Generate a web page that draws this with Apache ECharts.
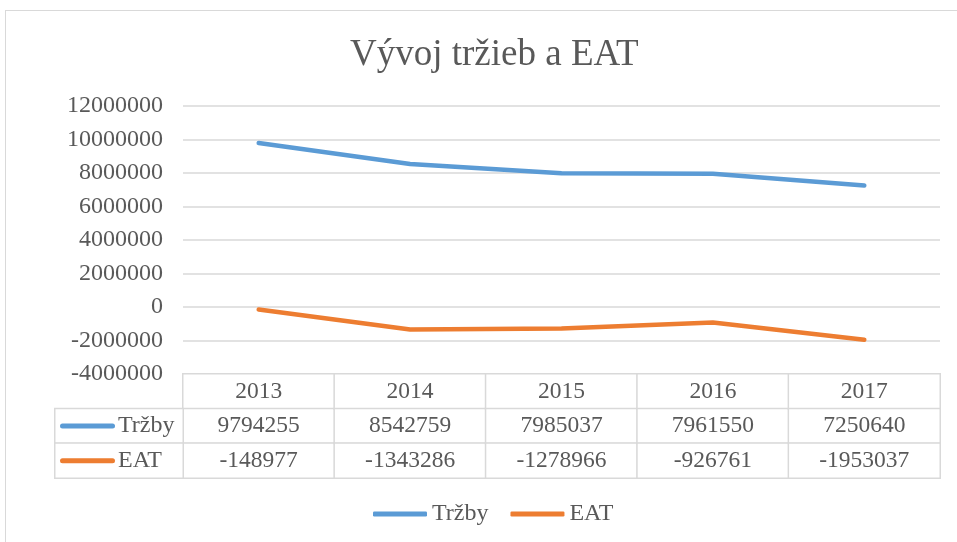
<!DOCTYPE html>
<html>
<head>
<meta charset="utf-8">
<script src="https://cdn.jsdelivr.net/npm/echarts@6/dist/echarts.min.js"></script>
<style>
  html, body { margin: 0; padding: 0; background: #fff; }
  #frame { position: absolute; left: 5px; top: 10px; width: 970px; height: 550px; border: 1px solid #d9d9d9; }
  #chart { position: absolute; left: 0; top: 0; width: 957px; height: 542px; }
</style>
</head>
<body>
<div id="frame"></div>
<div id="chart"></div>
<script>
const years = ['2013', '2014', '2015', '2016', '2017']
const trzby = [9794255, 8542759, 7985037, 7961550, 7250640]
const eat = [-148977, -1343286, -1278966, -926761, -1953037]
const seriesNames = ['Tržby', 'EAT']
const colors = ['#5B9BD5', '#ED7D31']

const font = "'Liberation Serif', 'Times New Roman', 'DejaVu Serif', serif"
const textColor = '#595959'
const lineColor = '#d9d9d9'

// table cells: header row = years, then one row per series
const tableData = []
years.forEach((y, i) => {
  tableData.push([i, 0, y])
  tableData.push([i, 1, trzby[i]])
  tableData.push([i, 2, eat[i]])
})
const keyData = seriesNames.map((n, i) => [0, i, 0])

const chart = echarts.init(document.getElementById('chart'))
chart.setOption({
  animation: false,
  title: {
    text: 'Vývoj tržieb a EAT',
    left: 345,
    top: 32,
    textStyle: { fontFamily: font, fontSize: 37, fontWeight: 'normal', color: textColor }
  },
  legend: {
    data: seriesNames,
    bottom: 11,
    left: 368,
    icon: 'roundRect',
    itemWidth: 54,
    itemHeight: 5,
    itemGap: 22,
    textStyle: { fontFamily: font, fontSize: 24, color: textColor }
  },
  visualMap: {
    show: false,
    type: 'continuous',
    seriesIndex: [2, 3],
    dimension: 2,
    min: -100000000,
    max: 100000000,
    inRange: { color: ['#ffffff', '#ffffff'] },
    outOfRange: { color: ['#ffffff'] }
  },
  grid: [
    { left: 183, right: 17, top: 106, height: 268 },
    { left: 183, right: 17, top: 374, height: 104 },
    { left: 55, width: 128, top: 408.7, height: 69.3 }
  ],
  xAxis: [
    {
      gridIndex: 0,
      type: 'category',
      data: years,
      boundaryGap: true,
      axisLine: { show: false },
      axisTick: { show: false },
      axisLabel: { show: false }
    },
    {
      gridIndex: 1,
      type: 'category',
      data: years,
      axisLine: { show: false },
      axisTick: { show: false },
      axisLabel: { show: false }
    },
    {
      gridIndex: 2,
      type: 'category',
      data: [''],
      axisLine: { show: false },
      axisTick: { show: false },
      axisLabel: { show: false }
    }
  ],
  yAxis: [
    {
      gridIndex: 0,
      type: 'value',
      min: -4000000,
      max: 12000000,
      interval: 2000000,
      axisLine: { show: false },
      axisTick: { show: false },
      axisLabel: { fontFamily: font, fontSize: 24, color: textColor, margin: 20, formatter: v => String(v) },
      splitLine: { lineStyle: { color: lineColor, width: 1.5 } }
    },
    {
      gridIndex: 1,
      type: 'category',
      inverse: true,
      data: ['', seriesNames[0], seriesNames[1]],
      axisLine: { show: false },
      axisTick: { show: false },
      axisLabel: { show: false }
    },
    {
      gridIndex: 2,
      type: 'category',
      inverse: true,
      data: seriesNames,
      axisLine: { show: false },
      axisTick: { show: false },
      axisLabel: { show: false }
    }
  ],
  series: [
    {
      name: seriesNames[0],
      type: 'line',
      xAxisIndex: 0,
      yAxisIndex: 0,
      data: trzby,
      symbol: 'none',
      color: colors[0],
      lineStyle: { width: 4.5, color: colors[0], cap: 'round' }
    },
    {
      name: seriesNames[1],
      type: 'line',
      xAxisIndex: 0,
      yAxisIndex: 0,
      data: eat,
      symbol: 'none',
      color: colors[1],
      lineStyle: { width: 4.5, color: colors[1], cap: 'round' }
    },
    {
      type: 'heatmap',
      xAxisIndex: 1,
      yAxisIndex: 1,
      data: tableData,
      itemStyle: { color: '#fff', borderColor: lineColor, borderWidth: 1.5 },
      emphasis: { disabled: true },
      label: {
        show: true,
        fontFamily: font,
        fontSize: 23.5,
        color: textColor,
        formatter: p => String(p.value[2])
      }
    },
    {
      type: 'heatmap',
      xAxisIndex: 2,
      yAxisIndex: 2,
      data: keyData,
      itemStyle: { color: '#fff', borderColor: lineColor, borderWidth: 1.5 },
      emphasis: { disabled: true },
      label: {
        show: true,
        position: 'insideLeft',
        distance: 6,
        formatter: p => '{k' + p.value[1] + '|}{t|' + seriesNames[p.value[1]] + '}',
        rich: {
          k0: { width: 55, height: 5, backgroundColor: colors[0], borderRadius: 3 },
          k1: { width: 55, height: 5, backgroundColor: colors[1], borderRadius: 3 },
          t: { fontFamily: font, fontSize: 24, color: textColor, padding: [0, 0, 0, 3] }
        }
      }
    }
  ]
})
</script>
</body>
</html>
